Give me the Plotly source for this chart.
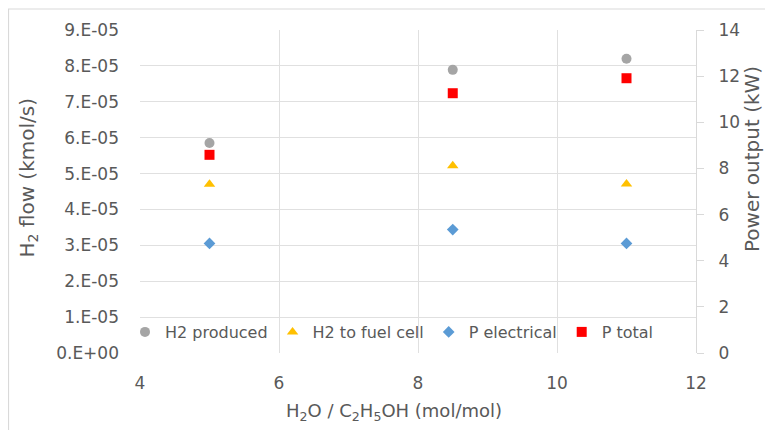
import plotly.graph_objects as go

ratio = [5, 8.5, 11]
h2_produced = [5.85e-5, 7.89e-5, 8.20e-5]
h2_fuel_cell = [4.70e-5, 5.22e-5, 4.71e-5]
p_electrical = [4.75, 5.35, 4.75]
p_total = [8.59, 11.26, 11.91]

left_ticks = [i * 1e-5 for i in range(10)]
left_labels = ["0.E+00"] + [f"{i}.E-05" for i in range(1, 10)]
x_ticks = [4, 6, 8, 10, 12]
right_ticks = list(range(0, 15, 2))

FONT = "DejaVu Sans"
GRAY_TXT = "#595959"
GRID = "#E0E0E0"

fig = go.Figure()
fig.add_trace(go.Scatter(x=ratio, y=h2_produced, mode="markers", name="H2 produced",
                         marker=dict(symbol="circle", size=10, color="#A5A5A5")))
fig.add_trace(go.Scatter(x=ratio, y=h2_fuel_cell, mode="markers", name="H2 to fuel cell",
                         marker=dict(symbol="triangle-up", size=10, color="#FFC000")))
fig.add_trace(go.Scatter(x=ratio, y=p_electrical, mode="markers", name="P electrical", yaxis="y2",
                         marker=dict(symbol="diamond", size=9, color="#5B9BD5")))
fig.add_trace(go.Scatter(x=ratio, y=p_total, mode="markers", name="P total", yaxis="y2",
                         marker=dict(symbol="square", size=10, color="#FF0000")))

# page body has an 8px margin, so the figure is 765x422
W, H = 765, 422
L, R, T, B = 132, 77, 22, 77
pw, ph = W - L - R, H - T - B

def px(xp):
    return (xp - L) / pw

def py(yp):
    return (H - B - yp) / ph

fig.update_layout(
    width=W, height=H,
    margin=dict(l=L, r=R, t=T, b=B),
    paper_bgcolor="white", plot_bgcolor="white",
    font=dict(family=FONT, size=17, color=GRAY_TXT),
    showlegend=True,
    legend=dict(orientation="h", x=px(384), xanchor="center", y=py(324), yanchor="middle",
                bgcolor="rgba(0,0,0,0)", font=dict(size=16, color=GRAY_TXT),
                itemwidth=30, tracegroupgap=0),
    xaxis=dict(range=[4, 12], tickvals=x_ticks, showgrid=True, gridcolor=GRID,
               zeroline=False, showline=False, ticks="", tickfont=dict(size=17),
               ticklabelstandoff=18),
    yaxis=dict(range=[0, 9e-5], tickvals=left_ticks, ticktext=left_labels, showgrid=True,
               gridcolor=GRID, zeroline=False, showline=False, ticks="",
               tickfont=dict(size=17), ticklabelstandoff=20),
    yaxis2=dict(range=[0, 14], tickvals=right_ticks, overlaying="y", side="right",
                showgrid=False, zeroline=False, showline=True, linecolor="#D9D9D9",
                ticks="outside", ticklen=7, tickcolor="#D9D9D9", tickfont=dict(size=17),
                ticklabelstandoff=11),
)

# axis titles
fig.add_annotation(text="H<sub>2</sub> flow (kmol/s)", xref="paper", yref="paper",
                   x=px(19), y=py(169.5), xanchor="center", yanchor="middle", textangle=-90,
                   showarrow=False, font=dict(size=20, color=GRAY_TXT))
fig.add_annotation(text="Power output (kW)", xref="paper", yref="paper",
                   x=px(744), y=py(151), xanchor="center", yanchor="middle", textangle=-90,
                   showarrow=False, font=dict(size=20, color=GRAY_TXT))
fig.add_annotation(text="H<sub>2</sub>O / C<sub>2</sub>H<sub>5</sub>OH (mol/mol)",
                   xref="paper", yref="paper", x=px(386), y=py(404), xanchor="center",
                   yanchor="middle", showarrow=False, font=dict(size=18, color=GRAY_TXT))

# outer chart border (top and left visible)
fig.add_shape(type="rect", xref="paper", yref="paper",
              x0=px(0.5), x1=px(W + 20), y0=py(H + 20), y1=py(1),
              line=dict(color="#D9D9D9", width=1.2), fillcolor="rgba(0,0,0,0)", layer="below")

fig.write_html("out.html")
